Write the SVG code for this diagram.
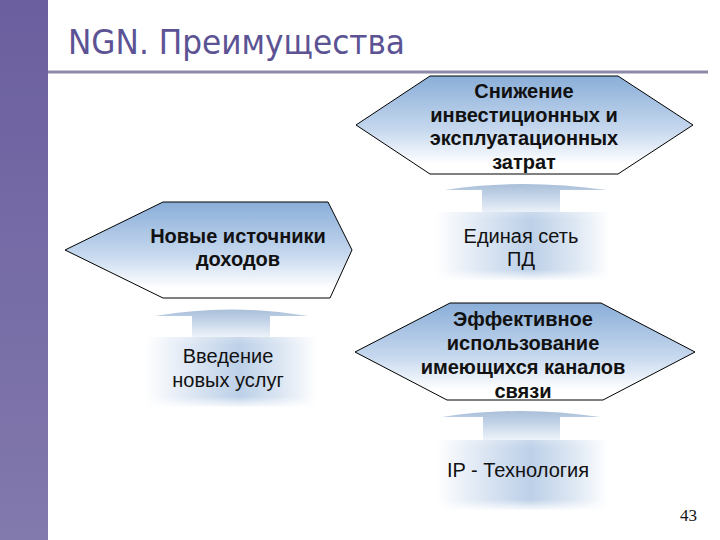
<svg xmlns="http://www.w3.org/2000/svg" width="720" height="540" viewBox="0 0 720 540">
<defs>
<linearGradient id="side" x1="0" y1="0" x2="0" y2="1">
<stop offset="0" stop-color="#6b5f9f"/>
<stop offset="1" stop-color="#8279ad"/>
</linearGradient>
<linearGradient id="hex" x1="0" y1="0" x2="0" y2="1">
<stop offset="0" stop-color="#8aaed8"/>
<stop offset="0.55" stop-color="#c6d8ee"/>
<stop offset="0.9" stop-color="#ffffff"/>
</linearGradient>
<linearGradient id="boxh" x1="0" y1="0" x2="1" y2="0">
<stop offset="0" stop-color="#ffffff"/>
<stop offset="0.25" stop-color="#dfe8f4"/>
<stop offset="0.55" stop-color="#bcd0e8"/>
<stop offset="0.8" stop-color="#dde7f3"/>
<stop offset="1" stop-color="#ffffff"/>
</linearGradient>
<linearGradient id="boxv" x1="0" y1="0" x2="0" y2="1">
<stop offset="0" stop-color="#ffffff" stop-opacity="0.2"/>
<stop offset="0.12" stop-color="#ffffff" stop-opacity="0"/>
<stop offset="0.85" stop-color="#ffffff" stop-opacity="0"/>
<stop offset="1" stop-color="#ffffff" stop-opacity="0.9"/>
</linearGradient>
<linearGradient id="arr" x1="0" y1="0" x2="0" y2="1">
<stop offset="0" stop-color="#a9bfd8"/>
<stop offset="0.4" stop-color="#c2d3e8"/>
<stop offset="1" stop-color="#eef3f9"/>
</linearGradient>
<style>
.hex{fill:url(#hex);stroke:#000;stroke-width:1}
.bt{font-family:"Liberation Sans",Arial,sans-serif;font-weight:bold;font-size:20px;fill:#111;text-anchor:middle}
.rt{font-family:"Liberation Sans",Arial,sans-serif;font-size:20px;fill:#111;text-anchor:middle}
.boxa{fill:url(#boxh)}
.boxb{fill:url(#boxv)}
.arr{fill:url(#arr)}
</style>
</defs>
<rect x="0" y="0" width="720" height="540" fill="#ffffff"/>
<rect x="0" y="0" width="48" height="540" fill="url(#side)"/>
<text x="68" y="54" font-family="DejaVu Sans, Verdana, sans-serif" font-size="33" fill="#5b5394" textLength="337" lengthAdjust="spacingAndGlyphs">NGN. Преимущества</text>
<line x1="48" y1="72" x2="708" y2="72" stroke="#8c8aa8" stroke-width="3"/>

<g id="connectors">
<path class="arr" d="M445,190 Q520,178 607,190 L560,190 L560,213 L482,213 L482,190 Z"/>
<path class="arr" d="M155,316 Q230,303 308,316 L270,316 L270,337 L192,337 L192,316 Z"/>
<path class="arr" d="M442,417 Q520,405 600,417 L560,417 L560,440 L483,440 L483,417 Z"/>
</g>

<g id="n1">
<polygon class="hex" points="356,125 430,76 618,76 693,125 618,174 430,174"/>
<text class="bt" x="524" y="98">Снижение</text>
<text class="bt" x="524" y="122">инвестиционных и</text>
<text class="bt" x="524" y="145">эксплуатационных</text>
<text class="bt" x="524" y="169">затрат</text>
</g>

<g id="n2">
<rect class="boxa" x="435" y="212" width="175" height="68"/>
<rect class="boxb" x="435" y="212" width="175" height="68"/>
<text class="rt" x="521" y="243">Единая сеть</text>
<text class="rt" x="521" y="266">ПД</text>
</g>

<g id="n3">
<polygon class="hex" points="65,250 163,202 328,202 352,250 330,298 163,298"/>
<text class="bt" x="238" y="243">Новые источники</text>
<text class="bt" x="238" y="266">доходов</text>
</g>

<g id="n4">
<rect class="boxa" x="145" y="337" width="172" height="70"/>
<rect class="boxb" x="145" y="337" width="172" height="70"/>
<text class="rt" x="228" y="363">Введение</text>
<text class="rt" x="228" y="387">новых услуг</text>
</g>

<g id="n5">
<polygon class="hex" points="355,352 450,303 601,303 695,352 603,400 447,400"/>
<text class="bt" x="523" y="326">Эффективное</text>
<text class="bt" x="523" y="350">использование</text>
<text class="bt" x="523" y="374">имеющихся каналов</text>
<text class="bt" x="523" y="398">связи</text>
</g>

<g id="n6">
<rect class="boxa" x="436" y="440" width="172" height="70"/>
<rect class="boxb" x="436" y="440" width="172" height="70"/>
<text class="rt" x="518" y="477">IP - Технология</text>
</g>

<text x="697" y="521" font-family="Liberation Serif, serif" font-size="17" fill="#111" text-anchor="end">43</text>
</svg>
